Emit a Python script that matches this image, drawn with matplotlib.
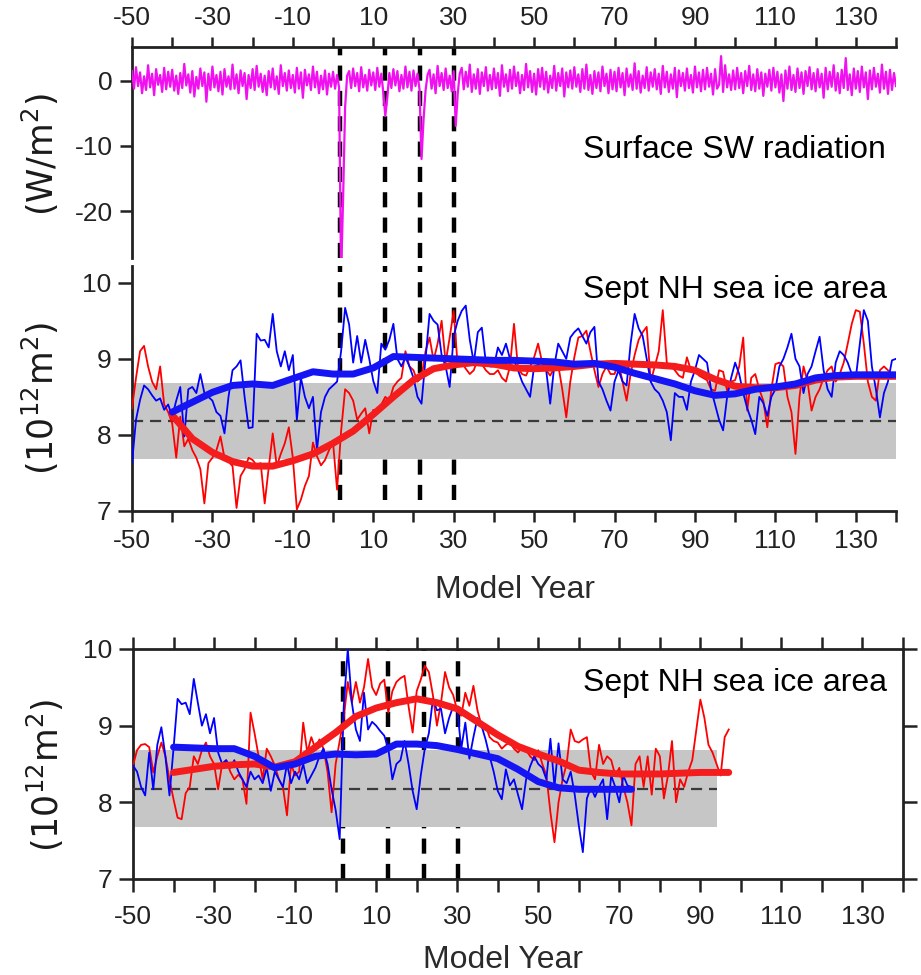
import numpy as np
import matplotlib
matplotlib.use("Agg")
import matplotlib.pyplot as plt

plt.rcParams['font.family'] = ['Liberation Sans', 'DejaVu Sans']

# ----------------------------
# Data
# ----------------------------

# years of the four events (vertical dashed lines)
event_years = [1.7, 12.8, 21.7, 30.2]

# surface SW radiation anomaly, half-year steps, -50 .. 140
sw_years = np.arange(-50, 140.5, 0.5)
sw_anom = [
    1.5, -1.2, 2.1, -0.8, 1.3, -1.9, 0.7, -1.4, 2.4, -1.0, 1.1, -2.2, 1.8, -0.6, 0.9, -1.7, 2.0, -1.3, 1.4, -0.9,
    1.7, -1.5, 0.8, -2.0, 1.2, -1.1, 2.6, -0.7, 1.0, -1.8, 1.5, -2.4, 0.6, -1.2, 1.9, -0.8, 1.3, -3.2, 1.1, -1.4,
    2.2, -1.0, 0.9, -1.6, 1.4, -2.1, 1.8, -0.9, 0.7, -1.3, 2.5, -1.2, 1.0, -1.9, 1.6, -0.8, 1.2, -2.8, 0.9, -1.1,
    1.8, -1.4, 2.3, -0.9, 1.1, -1.7, 0.8, -2.2, 1.5, -1.0, 1.9, -1.3, 0.7, -2.0, 2.4, -0.8, 1.2, -1.5, 1.6, -1.1,
    0.9, -1.8, 2.0, -1.2, 1.3, -2.6, 1.7, -0.7, 1.0, -1.4, 2.2, -1.0, 1.4, -1.9, 0.8, -1.3, 1.6, -2.1, 1.1, -0.9,
    1.4, -1.2, 0.9, -1.0, -30.0, -18.0, -4.0, 0.8, 1.5, -1.1, 1.9, -0.8, 1.2, -1.6, 2.1, -1.0, 0.9, -1.5, 1.7, -0.7,
    1.3, -1.4, 2.0, -0.9, 1.1, -1.8, -5.4, -2.5, 1.2, -1.1, 1.8, -0.7, 1.5, -1.6, 0.9, -1.2, 2.2, -1.0, 1.4, -1.5,
    1.6, -0.8, 1.1, -1.3, -12.0, -6.0, -1.5, 0.9, 1.7, -1.2, 1.0, -1.9, 2.3, -0.8, 1.2, -1.4, 1.9, -1.1, 0.8, -1.6,
    1.5, -6.9, -2.0, 1.1, 2.0, -1.3, 1.4, -0.9, 2.5, -1.7, 1.0, -1.2, 1.8, -2.0, 1.3, -0.8, 2.1, -1.5, 0.9, -1.3,
    1.9, -1.1, 1.2, -2.3, 2.4, -0.9, 1.0, -1.6, 1.7, -1.2, 2.2, -0.8, 1.3, -1.9, 0.9, -1.4, 2.6, -1.0, 1.5, -1.7,
    1.1, -2.1, 1.8, -0.9, 2.0, -1.3, 1.4, -1.8, 0.8, -1.1, 2.3, -1.5, 1.2, -0.8, 1.9, -2.4, 1.3, -1.0, 1.6, -1.2,
    2.1, -0.9, 1.0, -1.7, 1.8, -1.2, 2.5, -1.4, 0.9, -2.0, 1.5, -1.1, 1.3, -1.6, 2.2, -0.8, 1.1, -1.9, 1.7, -1.3,
    1.4, -1.6, 2.0, -1.0, 1.2, -2.2, 1.9, -0.9, 1.0, -1.4, 2.7, -1.2, 1.5, -1.8, 0.8, -1.1, 2.1, -1.5, 1.3, -0.9,
    1.8, -1.3, 1.1, -2.0, 2.3, -1.0, 1.4, -1.7, 1.0, -1.2, 2.0, -2.5, 1.6, -0.8, 1.2, -1.5, 1.9, -1.1, 0.9, -1.8,
    2.2, -1.0, 1.3, -1.6, 1.7, -1.3, 2.0, -0.9, 1.1, -2.1, 1.8, -1.2, -0.6, 3.8, -1.7, 2.4, -1.0, 1.0, -1.4, 1.6,
    -1.3, 2.0, -1.1, 1.2, -1.9, 1.5, -0.8, 2.3, -1.4, 1.0, -1.6, 1.8, -1.2, 1.3, -2.3, 1.1, -0.9, 1.7, -1.5, 2.0,
    -1.0, 1.4, -1.8, 1.0, -3.1, 1.6, -1.2, 2.2, -1.4, 0.9, -1.7, 1.9, -1.1, 1.3, -2.0, 1.5, -0.8, 2.1, -1.3, 1.2,
    -1.6, 1.8, -1.0, 1.1, -2.6, 2.0, -1.3, 1.4, -0.9, 2.4, -1.5, 1.2, -1.9, 1.7, -1.1, 3.5, -1.4, 1.0, -2.2, 1.9,
    -1.2, 1.5, -1.7, 2.2, -1.0, 1.3, -2.8, 1.6, -1.3, 2.0, -0.9, 1.1, -1.8, 2.5, -1.2, 1.4, -2.0, 1.7, -1.4, 1.2,
    -0.8,
]

# middle panel: Sept NH sea ice area, yearly, -50 .. 140
mid_years = np.arange(-50, 141)
mid_red = [
    8.35, 8.75, 9.10, 9.17, 8.90, 8.70, 8.60, 8.90, 8.40, 8.30,
    8.15, 7.70, 8.24, 7.85, 7.95, 7.80, 7.70, 7.55, 7.10, 7.63,
    7.70, 7.80, 7.98, 7.70, 7.65, 7.59, 7.04, 7.46, 7.55, 7.70,
    7.67, 7.60, 7.63, 7.10, 7.57, 8.02, 7.59, 7.75, 7.89, 8.10,
    7.70, 7.02, 7.15, 7.33, 7.46, 7.90, 7.72, 7.60, 7.67, 7.80,
    7.90, 7.28, 8.05, 8.60, 8.55, 8.45, 8.20, 8.28, 8.35, 8.02,
    8.33, 8.30, 8.40, 8.50, 8.45, 8.63, 8.70, 8.75, 9.10, 8.90,
    8.85, 8.70, 8.75, 9.10, 9.28, 8.98, 9.20, 9.50, 8.95, 9.28,
    9.63, 8.90, 8.95, 8.87, 8.80, 8.85, 9.00, 8.93, 8.85, 8.80,
    8.80, 8.85, 8.75, 8.70, 8.90, 9.46, 8.88, 8.80, 8.78, 8.90,
    9.02, 9.20, 8.95, 8.85, 8.78, 8.88, 8.92, 8.60, 8.23, 8.70,
    9.02, 9.28, 9.30, 9.37, 9.10, 8.85, 8.63, 8.80, 8.90, 8.80,
    8.80, 8.95, 8.70, 8.45, 8.80, 9.05, 9.25, 9.35, 9.42, 8.70,
    8.90, 9.10, 9.64, 8.95, 8.90, 8.85, 8.78, 8.75, 9.02, 8.85,
    8.85, 8.78, 8.75, 8.72, 8.60, 8.58, 8.85, 8.83, 8.58, 8.70,
    8.72, 8.90, 9.28, 8.32, 8.75, 8.80, 8.60, 8.45, 8.10, 8.60,
    8.93, 8.95, 8.90, 8.50, 8.30, 7.75, 8.50, 8.90, 8.70, 8.32,
    8.50, 8.60, 8.75, 8.85, 8.90, 8.70, 8.80, 8.95, 9.20, 9.46,
    9.64, 9.62, 9.20, 8.70, 8.50, 8.45, 8.85, 8.90, 8.85, 8.80,
    8.75,
]
mid_blue = [
    7.63, 8.20, 8.46, 8.65, 8.60, 8.52, 8.45, 8.48, 8.33, 8.40,
    8.24, 8.45, 8.63, 7.98, 8.60, 8.63, 8.55, 8.80, 8.55, 8.50,
    8.45, 8.30, 8.25, 8.02, 8.50, 8.85, 8.90, 8.98, 8.50, 8.09,
    8.10, 9.33, 9.24, 9.25, 9.15, 9.59, 9.10, 8.90, 9.10, 8.85,
    9.05, 8.20, 8.75, 8.50, 8.35, 8.50, 7.80, 8.30, 8.50, 8.60,
    8.65, 8.70, 9.10, 9.67, 9.45, 8.95, 9.30, 8.95, 9.25, 9.00,
    8.71, 8.55, 9.20, 9.12, 9.25, 9.46, 9.00, 8.90, 9.02, 8.90,
    8.75, 8.50, 8.41, 9.00, 9.59, 9.50, 9.45, 9.05, 8.90, 8.63,
    9.30, 9.50, 9.63, 9.70, 9.25, 8.95, 9.35, 9.41, 8.95, 8.90,
    8.90, 9.15, 9.05, 9.20, 9.00, 8.98, 8.85, 8.70, 8.60, 8.50,
    8.90, 8.92, 8.90, 8.85, 8.41, 8.90, 9.20, 9.10, 9.00, 9.28,
    9.35, 9.40, 9.30, 9.20, 9.35, 9.42, 8.70, 8.60, 8.45, 8.32,
    8.70, 8.85, 8.70, 8.65, 9.20, 9.59, 9.40, 9.30, 9.00, 8.70,
    8.60, 8.55, 8.45, 8.30, 7.93, 8.55, 8.50, 8.50, 8.33, 8.70,
    8.85, 9.05, 9.00, 8.95, 8.60, 8.40, 8.20, 8.06, 8.50, 8.75,
    8.95, 8.80, 8.55, 8.35, 8.20, 8.01, 8.50, 8.42, 8.25, 8.50,
    8.60, 8.90, 9.00, 9.15, 9.33, 9.00, 8.90, 8.55, 8.80, 8.90,
    9.10, 9.29, 8.85, 8.60, 8.50, 8.95, 9.10, 9.05, 8.95, 8.80,
    8.75, 9.20, 9.64, 9.50, 8.90, 8.60, 8.23, 8.55, 8.70, 8.98,
    9.00,
]
mid_smooth_years = np.arange(-40, 141, 5)
mid_red_smooth = [
    8.26, 7.95, 7.77, 7.65, 7.59, 7.59, 7.66, 7.75, 7.89, 8.05,
    8.27, 8.50, 8.72, 8.87, 8.92, 8.95, 8.93, 8.88, 8.87, 8.88,
    8.90, 8.93, 8.94, 8.93, 8.92, 8.90, 8.85, 8.73, 8.64, 8.62,
    8.62, 8.65, 8.72, 8.76, 8.77, 8.77, 8.77,
]
mid_blue_smooth = [
    8.30, 8.43, 8.56, 8.65, 8.67, 8.65, 8.74, 8.83, 8.80, 8.80,
    8.88, 9.03, 9.02, 9.01, 9.00, 8.99, 8.98, 8.98, 8.97, 8.96,
    8.93, 8.94, 8.89, 8.81, 8.74, 8.67, 8.58, 8.52, 8.54, 8.60,
    8.63, 8.67, 8.75, 8.78, 8.79, 8.79, 8.79,
]

# bottom panel
bot_red_years = np.arange(-50, 98)
bot_red = [
    8.48, 8.68, 8.75, 8.76, 8.72, 8.39, 8.60, 8.78, 8.60, 8.30,
    8.04, 7.80, 7.78, 8.12, 8.20, 8.60, 8.50, 8.68, 8.78, 8.60,
    8.50, 8.17, 8.50, 8.55, 8.40, 8.30, 8.36, 8.30, 7.98, 9.17,
    8.90, 8.60, 8.30, 8.70, 8.60, 8.48, 8.30, 8.20, 7.83, 8.50,
    8.35, 8.40, 9.04, 8.65, 8.85, 8.70, 8.82, 8.70, 8.40, 7.87,
    8.50, 8.80, 9.10, 9.57, 9.30, 9.57, 9.30, 9.50, 9.87, 9.50,
    9.40, 9.55, 9.60, 9.17, 9.45, 9.57, 9.62, 9.65, 9.25, 8.91,
    9.45, 9.60, 9.78, 9.70, 9.40, 9.00, 9.30, 9.70, 9.50, 9.40,
    9.20, 9.13, 9.43, 9.26, 9.52, 9.20, 9.00, 9.00, 8.85, 8.80,
    8.78, 8.70, 8.75, 8.78, 8.70, 8.65, 8.72, 8.68, 8.60, 8.55,
    8.68, 8.50, 8.35, 7.87, 7.48, 8.00, 8.30, 8.50, 8.95, 8.80,
    8.78, 8.82, 8.85, 8.40, 8.30, 8.75, 8.50, 8.60, 8.55, 8.35,
    8.45, 8.20, 8.00, 7.70, 8.50, 8.60, 8.20, 8.60, 8.10, 8.70,
    8.60, 8.05, 8.35, 8.80, 8.00, 8.30, 8.20, 8.40, 8.55, 8.95,
    9.34, 9.10, 8.75, 8.65, 8.50, 8.35, 8.85, 8.95,
]
bot_blue_years = np.arange(-50, 74)
bot_blue = [
    8.48, 8.40, 8.20, 8.09, 8.65, 8.17, 8.75, 8.98, 8.60, 8.09,
    8.70, 9.35, 9.28, 9.30, 9.15, 9.61, 9.30, 9.00, 9.15, 8.90,
    9.10, 8.65, 8.50, 8.55, 8.45, 8.55, 8.40, 8.30, 8.20, 8.40,
    8.30, 8.35, 8.25, 8.45, 8.15, 8.40, 8.30, 8.20, 8.50, 8.25,
    8.40, 8.30, 8.50, 8.25, 8.35, 8.45, 8.60, 8.70, 8.50, 8.17,
    7.90, 7.52, 9.25, 10.00, 9.30, 8.95, 8.80, 9.43, 8.95, 9.05,
    9.00, 8.93, 8.87, 8.70, 8.30, 8.50, 8.55, 8.80, 8.50, 8.15,
    7.91, 8.35, 8.70, 8.90, 9.35, 9.20, 9.22, 8.90, 9.10, 9.25,
    9.22, 8.70, 9.04, 8.57, 8.85, 9.10, 9.00, 8.82, 8.60, 8.40,
    8.15, 8.04, 8.43, 8.22, 8.30, 8.10, 7.91, 8.30, 8.47, 8.60,
    8.50, 8.45, 8.30, 8.83, 8.20, 8.77, 8.30, 8.25, 8.40, 8.10,
    7.70, 7.35, 8.05, 8.20, 8.07, 8.20, 8.30, 7.78, 8.35, 8.20,
    8.00, 8.35, 8.22, 8.20,
]
bot_red_smooth_years = [-40, -35, -30, -25, -20, -15, -10, -5, 0, 5, 10, 15, 20, 25, 30,
                        35, 40, 45, 50, 55, 60, 65, 70, 75, 80, 85, 90, 95, 97]
bot_red_smooth = [8.39, 8.43, 8.47, 8.49, 8.50, 8.46, 8.53, 8.72, 8.91, 9.12, 9.23, 9.30, 9.35, 9.30, 9.22,
                  9.05, 8.88, 8.73, 8.63, 8.54, 8.42, 8.39, 8.37, 8.37, 8.37, 8.38, 8.39, 8.39, 8.39]
bot_blue_smooth_years = [-40, -35, -30, -25, -20, -15, -10, -5, 0, 5, 10, 15, 20, 25, 30,
                         35, 40, 45, 50, 55, 60, 65, 70, 73]
bot_blue_smooth = [8.72, 8.71, 8.70, 8.70, 8.60, 8.45, 8.50, 8.60, 8.63, 8.62, 8.63, 8.76, 8.76, 8.74, 8.69,
                   8.63, 8.57, 8.43, 8.27, 8.19, 8.17, 8.17, 8.17, 8.17]

# control run mean and +/- range (grey band)
control_mean = 8.18
control_low = 7.68
control_high = 8.68
bot_band_end = 94

# ----------------------------
# Plot
# ----------------------------

W, H = 921, 975
fig = plt.figure(figsize=(W / 100, H / 100), dpi=100)


def box(x0, x1, y0, y1):
    # pixel box -> figure fraction
    return [x0 / W, 1 - y1 / H, (x1 - x0) / W, (y1 - y0) / H]


ax1 = fig.add_axes(box(132, 896, 47, 258))
ax2 = fig.add_axes(box(132, 896, 266, 511))
ax3 = fig.add_axes(box(133, 903, 649, 879))

tick_font = dict(family=['Liberation Sans Narrow', 'Liberation Sans', 'DejaVu Sans'],
                 size=19, color='#222222')
xt = list(range(-50, 141, 10))
xl = [str(v) if (v + 50) % 20 == 0 else '' for v in xt]

RED = '#ff0000'
BLUE = '#0000ff'
vdash = (0, (3.4, 2.3))
hdash = (0, (5, 3.1))

for ax in (ax1, ax2, ax3):
    ax.set_xlim(-50, 140)
    for s in ax.spines.values():
        s.set_linewidth(2)
        s.set_color('#222222')
    ax.tick_params(direction='out', width=1.8, colors='#222222')

# --- top panel: surface SW radiation
ax1.set_ylim(-27.2, 5.2)
ax1.xaxis.tick_top()
ax1.set_xticks(xt, xl, **tick_font)
ax1.set_yticks([0, -10, -20], ['0', '-10', '-20'], **tick_font)
ax1.tick_params(axis='x', length=7, pad=5)
ax1.tick_params(axis='y', length=9, pad=5)
ax1.spines['bottom'].set_visible(False)
ax1.spines['right'].set_visible(False)
for x in event_years:
    ax1.axvline(x, color='black', lw=3.2, ls=vdash, zorder=1)
ax1.plot(sw_years, sw_anom, color='#f010f0', lw=1.6, zorder=3)
fig.text(583 / W, 1 - 150 / H, 'Surface SW radiation', fontsize=23, va='center')
fig.text(40 / W, 1 - 155 / H, r'(W/m$^2$)', rotation=90, fontsize=25,
         family='DejaVu Sans', ha='center', va='center', color='#1a1a1a')

# --- middle panel
ax2.set_ylim(7, 10.22)
ax2.set_xticks(xt, xl, **tick_font)
ax2.set_yticks([7, 8, 9, 10], ['7', '8', '9', '10'], **tick_font)
ax2.tick_params(axis='x', length=8, pad=5)
ax2.tick_params(axis='y', length=10, pad=5)
ax2.spines['top'].set_visible(False)
ax2.spines['right'].set_visible(False)
ax2.vlines(event_years, 7.14, 10.22, color='black', lw=3.2, ls=vdash, zorder=1)
ax2.fill_between([-50, 140], control_low, control_high, color='#c6c6c6', lw=0, zorder=2)
ax2.hlines(control_mean, -50, 140, color='#3a3a3a', lw=1.6, ls=hdash, zorder=3)
ax2.plot(mid_years, mid_red, color=RED, lw=1.3, zorder=4)
ax2.plot(mid_years, mid_blue, color=BLUE, lw=1.3, zorder=4)
ax2.plot(mid_smooth_years, mid_red_smooth, color='#f41c1c', lw=5, zorder=5,
         solid_capstyle='round', solid_joinstyle='round')
ax2.plot(mid_smooth_years, mid_blue_smooth, color='#1414f5', lw=5, zorder=6,
         solid_capstyle='round', solid_joinstyle='round')
fig.text(583 / W, 1 - 290 / H, 'Sept NH sea ice area', fontsize=23, va='center')
fig.text(40 / W, 1 - 398 / H, r'(10$^{12}$m$^2$)', rotation=90, fontsize=25,
         family='DejaVu Sans', ha='center', va='center', color='#1a1a1a')
fig.text(515 / W, 1 - 590 / H, 'Model Year', fontsize=23, ha='center', va='center',
         color='#2a2a2a')

# --- bottom panel
ax3.set_ylim(7, 10)
ax3.set_xticks(xt, xl, **tick_font)
ax3.set_yticks([7, 8, 9, 10], ['7', '8', '9', '10'], **tick_font)
ax3.tick_params(axis='x', top=True, length=9, pad=10)
ax3.tick_params(axis='y', right=True, length=10, pad=5)
ax3.vlines(event_years, 7, 10, color='black', lw=3.2, ls=vdash, zorder=1)
ax3.fill_between([-50, bot_band_end], control_low, control_high, color='#c6c6c6', lw=0, zorder=2)
ax3.hlines(control_mean, -50, bot_band_end, color='#3a3a3a', lw=1.6, ls=hdash, zorder=3)
ax3.plot(bot_red_years, bot_red, color=RED, lw=1.3, zorder=4)
ax3.plot(bot_blue_years, bot_blue, color=BLUE, lw=1.3, zorder=4)
ax3.plot(bot_red_smooth_years, bot_red_smooth, color='#f41c1c', lw=5, zorder=5,
         solid_capstyle='round', solid_joinstyle='round')
ax3.plot(bot_blue_smooth_years, bot_blue_smooth, color='#1414f5', lw=5, zorder=6,
         solid_capstyle='round', solid_joinstyle='round')
fig.text(583 / W, 1 - 683 / H, 'Sept NH sea ice area', fontsize=23, va='center')
fig.text(45 / W, 1 - 775 / H, r'(10$^{12}$m$^2$)', rotation=90, fontsize=25,
         family='DejaVu Sans', ha='center', va='center', color='#1a1a1a')
fig.text(503 / W, 1 - 960 / H, 'Model Year', fontsize=23, ha='center', va='center',
         color='#2a2a2a')

fig.savefig('out.png', dpi=100)
